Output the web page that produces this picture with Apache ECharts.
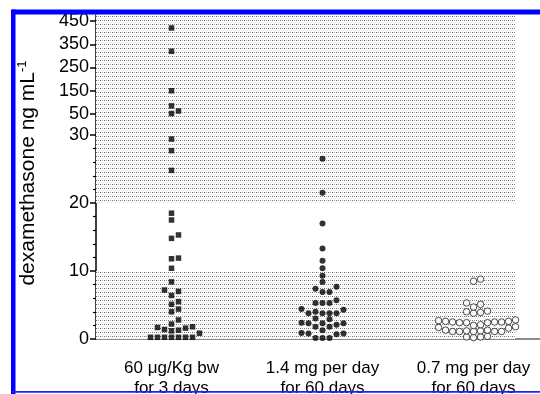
<!DOCTYPE html>
<html>
<head>
<meta charset="utf-8">
<script src="https://cdn.jsdelivr.net/npm/echarts@6/dist/echarts.min.js"></script>
<style>
html,body{margin:0;padding:0;background:#fff;}
#chart{width:540px;height:394px;}
</style>
</head>
<body>
<div id="chart"></div>
<script>
// ---- data ----
const categories = ['60 μg/Kg bw\nfor 3 days', '1.4 mg per day\nfor 60 days', '0.7 mg per day\nfor 60 days'];
const group1Values = [420, 320, 150, 85, 63, 52, 29.4, 27.7, 24.8, 18.5, 17.5, 15.3, 14.8, 11.9, 11.8, 10.4, 8.4, 7.2, 7.0, 6.4, 5.5, 5.1, 4.4, 4.0, 2.8, 2.2, 1.8, 1.7, 1.6, 1.4, 1.3, 1.2, 0.85, 0.25, 0.25, 0.25, 0.25, 0.25, 0.25, 0.25];
const group2Values = [26.5, 21.5, 17.0, 13.3, 11.5, 10.4, 9.3, 8.4, 7.7, 7.4, 6.9, 6.9, 5.7, 5.3, 5.3, 5.3, 4.4, 4.3, 4.0, 3.8, 3.8, 3.8, 3.8, 3.0, 2.9, 2.4, 2.3, 2.3, 2.3, 2.1, 1.8, 1.8, 1.3, 0.9, 0.8, 0.8, 0.7, 0.15, 0.15, 0.15];
const group3Values = [8.8, 8.5, 5.3, 5.1, 4.7, 4.1, 4.0, 3.9, 3.8, 2.8, 2.7, 2.6, 2.5, 2.5, 2.4, 2.4, 2.4, 2.5, 2.6, 2.1, 2.0, 1.8, 1.7, 1.6, 1.3, 1.3, 1.2, 1.2, 1.1, 1.1, 1.1, 1.1, 1.1, 0.4, 0.3, 0.3, 0.2];
const upperMajorTicks = [50, 150, 250, 350, 450];
const upperMinorTicks = [100, 200, 300, 400];
const lowerTickInterval = 10;
const lowerShadedBands = [[0, 10], [20, 30]];
const yAxisTitle = 'dexamethasone ng mL';
const yAxisTitleSup = '-1';

// ---- layout / style ----
const FONT = "'Liberation Sans', Arial, sans-serif";
const breakAt = 30;
const upperRange = [-40.3, 475.8];
const lowerRange = [0, 30];
const xRange = [0.5, 3.44];
const shadeRight = 3.275;
const slotPx = 7, minGapPx = 6;

const pc = document.createElement('canvas');
pc.width = 4; pc.height = 4;
const pctx = pc.getContext('2d');
pctx.fillStyle = '#fff'; pctx.fillRect(0, 0, 4, 4);
pctx.fillStyle = '#666'; pctx.fillRect(0, 0, 1, 1);
pctx.fillStyle = '#999'; pctx.fillRect(2, 0, 1, 1);
pctx.fillStyle = '#e4e4e4'; pctx.fillRect(1, 2, 1, 1);
pctx.fillStyle = '#e4e4e4'; pctx.fillRect(3, 2, 1, 1);
const dotPattern = { image: pc, repeat: 'repeat' };

const chart = echarts.init(document.getElementById('chart'), null, { renderer: 'canvas' });

const symbolStyles = [
  { symbol: 'rect', symbolSize: 5.5, itemStyle: { color: '#000' } },
  { symbol: 'circle', symbolSize: 6, itemStyle: { color: '#000' } },
  { symbol: 'circle', symbolSize: 6.5, itemStyle: { color: '#fff', borderColor: '#222', borderWidth: 1 } }
];
const groups = [group1Values, group2Values, group3Values];

function baseOption() {
  return {
    animation: false,
    backgroundColor: '#fff',
    grid: [
      { left: 96, right: 0, top: 15, height: 120, outerBoundsMode: 'none' },
      { left: 96, right: 0, top: 135, height: 204, outerBoundsMode: 'none' }
    ],
    xAxis: [
      { type: 'value', gridIndex: 0, min: xRange[0], max: xRange[1], show: false },
      {
        type: 'value', gridIndex: 1, min: xRange[0], max: xRange[1],
        axisLine: { show: true, lineStyle: { color: '#666', width: 1.5 } },
        axisTick: { show: false },
        splitLine: { show: false },
        axisLabel: {
          customValues: [1, 2, 3],
          formatter: v => categories[Math.round(v) - 1] || '',
          fontFamily: FONT, fontSize: 17, color: '#000', lineHeight: 20, margin: 19
        }
      }
    ],
    yAxis: [
      {
        type: 'value', gridIndex: 0, min: upperRange[0], max: upperRange[1],
        axisLine: { show: true, lineStyle: { color: '#000', width: 1.5 } },
        axisTick: { show: true, customValues: upperMajorTicks, length: 6, lineStyle: { color: '#000', width: 1.5 } },
        axisLabel: { customValues: upperMajorTicks, fontFamily: FONT, fontSize: 18, color: '#000', margin: 7 },
        splitLine: { show: false }
      },
      {
        type: 'value', gridIndex: 0, min: upperRange[0], max: upperRange[1],
        axisLine: { show: false },
        axisTick: { show: true, customValues: upperMinorTicks, length: 3, lineStyle: { color: '#000', width: 1.2 } },
        axisLabel: { show: false },
        splitLine: { show: false }
      },
      {
        type: 'value', gridIndex: 1, min: lowerRange[0], max: lowerRange[1], interval: lowerTickInterval,
        axisLine: { show: true, lineStyle: { color: '#000', width: 1.5 } },
        axisTick: { show: true, length: 6, lineStyle: { color: '#000', width: 1.5 } },
        minorTick: { show: true, splitNumber: 5, length: 3, lineStyle: { color: '#000', width: 1.2 } },
        axisLabel: { fontFamily: FONT, fontSize: 18, color: '#000', margin: 7 },
        splitLine: { show: false }
      }
    ],
    graphic: [
      {
        type: 'text', x: 28, y: 173, rotation: Math.PI / 2, z: 50,
        style: {
          text: yAxisTitle + '{sup|' + yAxisTitleSup + '}',
          fontFamily: FONT, fontSize: 21, fill: '#000', lineHeight: 24,
          align: 'center', verticalAlign: 'middle',
          rich: { sup: { fontFamily: FONT, fontSize: 13, lineHeight: 13, verticalAlign: 'top', fill: '#000' } }
        }
      },
      { type: 'rect', z: 100, shape: { x: 12, y: 9.5, width: 528, height: 5 }, style: { fill: '#0000ff' } },
      { type: 'rect', z: 100, shape: { x: 11, y: 9.5, width: 4.5, height: 385 }, style: { fill: '#0000ff' } },
      { type: 'rect', z: 100, shape: { x: 12, y: 391, width: 528, height: 1.8 }, style: { fill: '#2020ff' } }
    ],
    series: [
      {
        type: 'scatter', xAxisIndex: 0, yAxisIndex: 0, data: [], z: 1, silent: true,
        markArea: {
          silent: true, itemStyle: { color: dotPattern },
          data: [[{ xAxis: xRange[0], yAxis: upperRange[0] }, { xAxis: shadeRight, yAxis: upperRange[1] }]]
        }
      },
      {
        type: 'scatter', xAxisIndex: 1, yAxisIndex: 2, data: [], z: 1, silent: true,
        markArea: {
          silent: true, itemStyle: { color: dotPattern },
          data: lowerShadedBands.map(b => [{ xAxis: xRange[0], yAxis: b[0] }, { xAxis: shadeRight, yAxis: b[1] }])
        }
      }
    ]
  };
}

chart.setOption(baseOption());

// beeswarm: place each value in the nearest free column slot
const pxPerX = chart.convertToPixel({ xAxisIndex: 1 }, 2) - chart.convertToPixel({ xAxisIndex: 1 }, 1);
const pointSeries = [];
groups.forEach((vals, gi) => {
  const pts = vals.map(v => {
    const upper = v > breakAt;
    const py = upper ? chart.convertToPixel({ yAxisIndex: 0 }, v) : chart.convertToPixel({ yAxisIndex: 2 }, v);
    return { v, upper, py };
  });
  pts.sort((a, b) => b.py - a.py);
  const slots = {};
  pts.forEach(p => {
    for (let k = 0; k < 40; k++) {
      const s = k === 0 ? 0 : (k % 2 === 1 ? (k + 1) / 2 : -k / 2);
      const used = slots[s] || [];
      if (used.every(q => Math.abs(q - p.py) >= minGapPx)) {
        used.push(p.py); slots[s] = used; p.slot = s; break;
      }
    }
    p.x = gi + 1 + p.slot * slotPx / pxPerX;
  });
  const up = pts.filter(p => p.upper).map(p => [p.x, p.v]);
  const low = pts.filter(p => !p.upper).map(p => [p.x, p.v]);
  const st = symbolStyles[gi];
  if (up.length) pointSeries.push(Object.assign({ type: 'scatter', xAxisIndex: 0, yAxisIndex: 0, data: up, z: 5 }, st));
  if (low.length) pointSeries.push(Object.assign({ type: 'scatter', xAxisIndex: 1, yAxisIndex: 2, data: low, z: 5 }, st));
});

const opt = baseOption();
opt.series = opt.series.concat(pointSeries);
chart.setOption(opt, true);
</script>
</body>
</html>
